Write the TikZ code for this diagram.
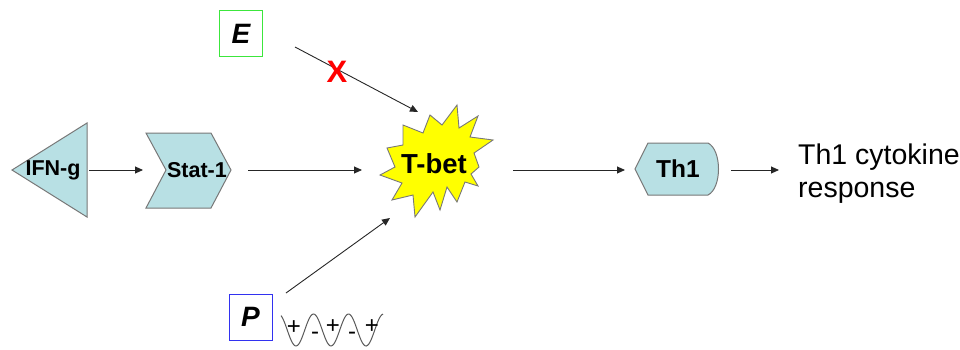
\documentclass[tikz,border=0pt]{standalone}
\usepackage{fontspec}
\setmainfont{Liberation Sans}
\usetikzlibrary{arrows.meta}
\definecolor{shapefill}{RGB}{184,224,228}
\definecolor{shapeline}{RGB}{120,120,120}
\definecolor{starfill}{RGB}{255,255,0}
\definecolor{ebox}{RGB}{60,230,60}
\definecolor{pbox}{RGB}{50,50,240}
\tikzset{
  shp/.style={fill=shapefill,draw=shapeline,line width=1pt,line join=miter},
  lbl/.style={font=\bfseries\fontsize{21.5}{24}\selectfont,inner sep=0pt},
  conn/.style={draw=black!85,line width=0.9pt,-{Triangle[length=8pt,width=7pt]}},
  sgn/.style={font=\fontsize{24}{26}\selectfont,inner sep=0pt},
  letterbox/.style={line width=1pt,minimum width=43pt,minimum height=46pt,inner sep=0pt,font=\bfseries\itshape\fontsize{28}{30}\selectfont},
}
\begin{document}
\begin{tikzpicture}[x=1pt,y=-1pt]
\useasboundingbox (0,0) rectangle (960,349);
% IFN-g triangle
\draw[shp] (12,170) -- (87,123) -- (87,217) -- cycle;
\node[lbl] (ifng) at (53,170) {IFN-g};
% Stat-1 chevron
\draw[shp] (146,133) -- (211,133) -- (231,170) -- (211,208) -- (146,208) -- (166,170) -- cycle;
\node[lbl] (stat) at (197,170) {Stat-1};
% T-bet star
\draw[fill=starfill,draw=shapeline,line width=0.9pt,line join=miter]
 (457,105) -- (459,128) -- (478,116) -- (470,137) -- (493,140) -- (474,153)
 -- (479,167) -- (471,174) -- (478,186) -- (465,182) -- (457,202) -- (447,187)
 -- (440,210) -- (433,192) -- (415,217) -- (413,195) -- (392,200) -- (402,183)
 -- (380,175) -- (395,167) -- (387,148) -- (403,145) -- (403,125) -- (423,133)
 -- (430,115) -- (442,125) -- cycle;
\node[font=\bfseries\fontsize{27.5}{30}\selectfont,inner sep=0pt] (tbet) at (434,164) {T-bet};
% Th1 shape
\draw[shp] (635,169) -- (648,143) -- (708,143) .. controls (722,150) and (722,188) .. (708,195) -- (648,195) -- cycle;
\node[lbl,font=\bfseries\fontsize{24.5}{26}\selectfont] (th1) at (678,169) {Th1};
% response text
\node[font=\fontsize{28.5}{33}\selectfont,align=left,anchor=west,inner sep=0pt] (resp) at (798,174) {Th1 cytokine\\response};
% E and P boxes
\node[letterbox,draw=ebox] (E) at (241,33.5) {E};
\node[letterbox,draw=pbox] (P) at (250.5,317) {P};
% connector coordinates
\coordinate (a1s) at (89,170); \coordinate (a1e) at (143,170);
\coordinate (a2s) at (248,170); \coordinate (a2e) at (362,170);
\coordinate (a3s) at (513,170); \coordinate (a3e) at (625,170);
\coordinate (a4s) at (731,170); \coordinate (a4e) at (779,170);
\coordinate (aEs) at (295,47); \coordinate (aEe) at (418,112);
\coordinate (aPs) at (286,293); \coordinate (aPe) at (390,218);
\draw[conn] (a1s) -- (a1e);
\draw[conn] (a2s) -- (a2e);
\draw[conn] (a3s) -- (a3e);
\draw[conn] (a4s) -- (a4e);
\draw[conn] (aEs) -- (aEe);
\draw[conn] (aPs) -- (aPe);
% red X
\node[font=\bfseries\fontsize{31}{33}\selectfont,text=red,inner sep=0pt] (x) at (337,72) {X};
% wave
\draw[black!65,line width=1pt] plot[domain=281:383,samples=80,smooth] (\x,{330+16*cos((\x-296)/35*360)});
\node[sgn] (s1) at (294,328) {+};
\node[sgn] (s2) at (315,336) {-};
\node[sgn] (s3) at (333,327) {+};
\node[sgn] (s4) at (352,336) {-};
\node[sgn] (s5) at (372,327) {+};
\end{tikzpicture}
\end{document}
